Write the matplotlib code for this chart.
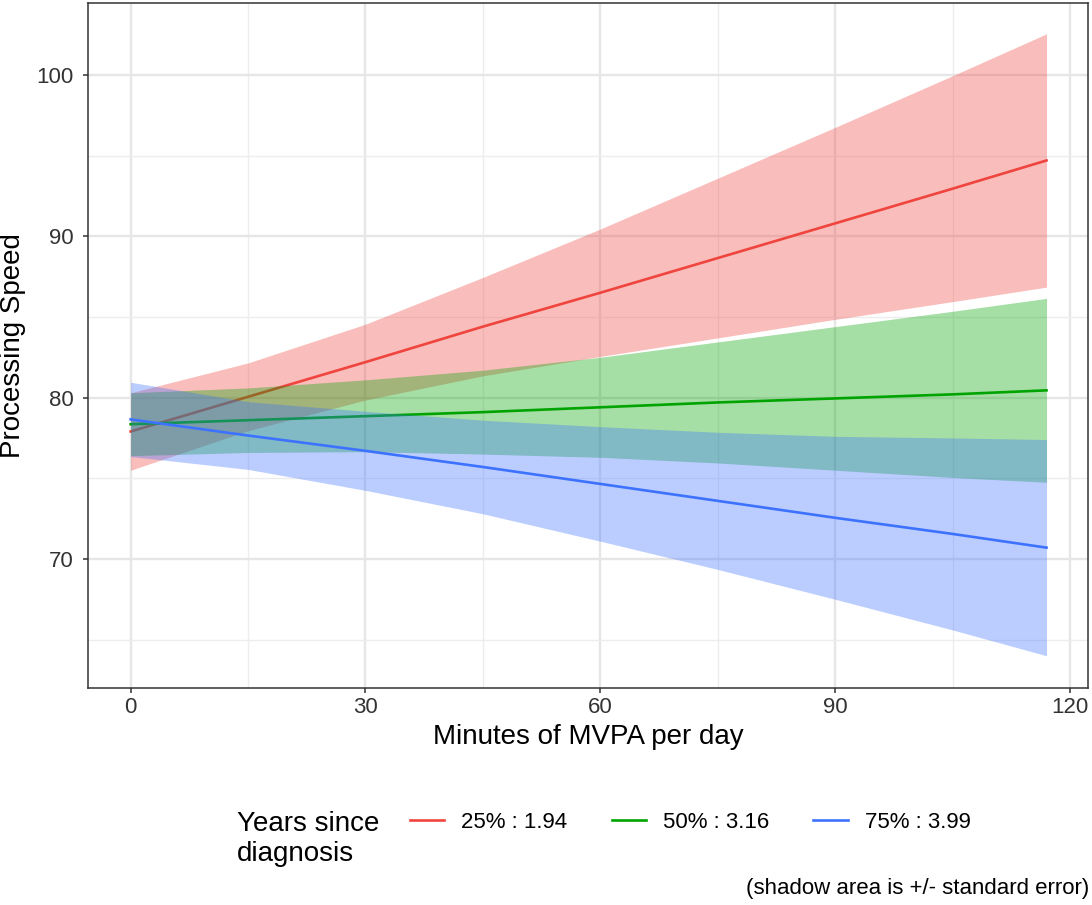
import matplotlib
matplotlib.use("Agg")
import matplotlib.pyplot as plt
from matplotlib.lines import Line2D

plt.rcParams['font.family'] = ['Liberation Sans', 'DejaVu Sans']

# ---------- data ----------
minutes = [0, 15, 30, 45, 60, 75, 90, 105, 117]

# 25% : 1.94 years since diagnosis
red_fit = [77.9, 80.05, 82.2, 84.4, 86.5, 88.65, 90.8, 92.95, 94.7]
red_hi = [80.3, 82.15, 84.55, 87.45, 90.45, 93.6, 96.75, 99.95, 102.55]
red_lo = [75.5, 77.95, 79.85, 81.35, 82.55, 83.7, 84.85, 85.95, 86.85]

# 50% : 3.16
green_fit = [78.35, 78.6, 78.85, 79.1, 79.4, 79.7, 79.95, 80.2, 80.45]
green_hi = [80.3, 80.6, 81.1, 81.7, 82.5, 83.45, 84.4, 85.35, 86.15]
green_lo = [76.4, 76.6, 76.65, 76.5, 76.3, 75.95, 75.5, 75.05, 74.75]

# 75% : 3.99
blue_fit = [78.65, 77.65, 76.7, 75.7, 74.65, 73.6, 72.55, 71.55, 70.7]
blue_hi = [80.95, 79.75, 79.15, 78.6, 78.2, 77.85, 77.6, 77.5, 77.4]
blue_lo = [76.35, 75.55, 74.25, 72.8, 71.1, 69.35, 67.5, 65.6, 64.0]

labels = ["25% : 1.94", "50% : 3.16", "75% : 3.99"]
colors = ["#F0443E", "#00A400", "#3D72FF"]

x_ticks = [0, 30, 60, 90, 120]
y_ticks = [70, 80, 90, 100]

# ---------- figure ----------
fig = plt.figure(figsize=(10.92, 9.05), dpi=100)
ax = fig.add_axes([88 / 1092, 1 - 688 / 905, 1000 / 1092, 685 / 905])

groups = [(red_fit, red_hi, red_lo), (green_fit, green_hi, green_lo),
          (blue_fit, blue_hi, blue_lo)]
for i, (fit, hi, lo) in enumerate(groups):
    # ribbon then line, group by group (like ggplot does)
    ax.fill_between(minutes, lo, hi, color=colors[i], alpha=0.35,
                    linewidth=0, zorder=3 + 2 * i)
    ax.plot(minutes, fit, color=colors[i], lw=1.9, zorder=4 + 2 * i)

ax.set_xlim(-5.45, 122.3)
ax.set_ylim(62.0, 104.46)
ax.set_xticks(x_ticks)
ax.set_yticks(y_ticks)
ax.set_xticks([15, 45, 75, 105], minor=True)
ax.set_yticks([65, 75, 85, 95], minor=True)
ax.grid(which='major', color='#E6E6E6', lw=1.7, zorder=0)
ax.grid(which='minor', color='#EDEDED', lw=1.0, zorder=0)
ax.set_axisbelow(True)
for sp in ax.spines.values():
    sp.set_color('#333333')
    sp.set_linewidth(1.1)
ax.tick_params(which='major', length=3.6, width=1.1, color='#333333',
               labelsize=16, labelcolor='#333333')
ax.tick_params(axis='x', which='major', pad=3)
ax.tick_params(axis='y', which='major', pad=7)
ax.tick_params(which='minor', length=0)

ax.set_xlabel("Minutes of MVPA per day", fontsize=20, labelpad=4)
ax.set_ylabel("Processing Speed", fontsize=20, labelpad=7)

# ---------- legend at the bottom ----------
fig.text(237 / 1092, 1 - 839 / 905, "Years since\ndiagnosis", fontsize=20,
         ha='left', va='center', linespacing=1.2)
handles = [Line2D([], [], color=c, lw=1.9) for c in colors]
fig.legend(handles, labels, ncol=3, loc='center left',
           bbox_to_anchor=(410 / 1092, 1 - 822 / 905), frameon=False,
           fontsize=16, handlelength=1.55, handletextpad=0.75,
           columnspacing=2.0, borderpad=0, borderaxespad=0)

fig.text(1089 / 1092, 1 - 888 / 905, "(shadow area is +/- standard error)",
         fontsize=16, ha='right', va='center')

fig.savefig("out.png", dpi=100)
